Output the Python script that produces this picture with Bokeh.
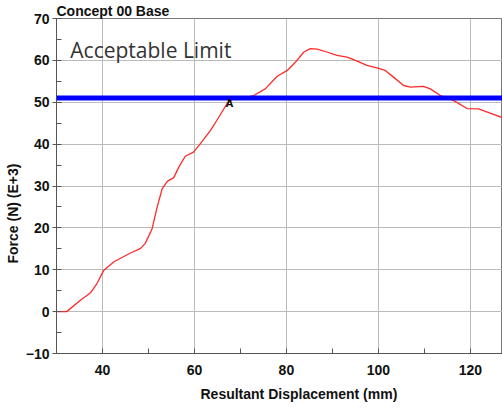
from bokeh.plotting import figure
from bokeh.models import Span, Label, SingleIntervalTicker, Range1d, Title
from bokeh.embed import file_html
from bokeh.resources import INLINE

# Data
displacement = [30.0, 32.2, 35.2, 37.4, 38.8, 40.3, 42.5, 46.1, 48.3, 49.3, 50.8, 51.9, 53.0,
                54.1, 55.5, 56.6, 58.0, 59.8, 61.3, 63.5, 64.9, 67.1, 68.5, 70.5, 72.9, 75.4,
                78.0, 80.2, 82.0, 83.8, 85.2, 86.7, 88.8, 91.0, 93.2, 95.4, 97.5, 99.7, 101.5,
                103.3, 105.5, 107.0, 109.8, 111.3, 113.5, 116.4, 119.3, 121.8, 124.3, 127.0]
force = [0.0, 0.0, 2.7, 4.5, 6.7, 9.9, 11.9, 14.0, 15.1, 16.3, 19.8, 25.0, 29.4,
         31.1, 32.0, 34.5, 37.1, 38.1, 40.1, 43.3, 45.7, 49.7, 50.9, 51.0, 51.6, 53.2,
         56.2, 57.6, 59.6, 62.0, 62.8, 62.7, 62.0, 61.2, 60.8, 59.8, 58.8, 58.2, 57.6,
         56.0, 54.0, 53.6, 53.8, 53.2, 51.6, 50.4, 48.5, 48.4, 47.4, 46.3]
limit = 51.0
title_text = "Concept 00 Base"
x_label = "Resultant Displacement (mm)"
y_label = "Force (N) (E+3)"
limit_text = "Acceptable Limit"
marker_text = "A"

FONT = "Liberation Sans"

p = figure(width=502, height=410, output_backend="svg", toolbar_location=None,
           x_range=Range1d(30, 127), y_range=Range1d(-10, 70),
           min_border_left=56, min_border_right=0, min_border_top=18, min_border_bottom=57)
p.background_fill_color = "white"
p.border_fill_color = "white"
p.outline_line_color = "#777777"

p.title.text = title_text
p.title.align = "left"
p.title.offset = 0
p.title.standoff = 0
p.title.text_font = FONT
p.title.text_font_size = "14px"
p.title.text_font_style = "bold"
p.title.text_color = "#111111"

p.add_layout(Title(text=x_label, align="left", offset=144, standoff=12, text_font=FONT,
                   text_font_size="14px", text_font_style="bold", text_color="#111111"),
             "below")
p.add_layout(Title(text=y_label, align="left", offset=90, standoff=4, text_font=FONT,
                   text_font_size="14px", text_font_style="bold", text_color="#111111"),
             "left")

p.xaxis.ticker = SingleIntervalTicker(interval=20, num_minor_ticks=2)
p.yaxis.ticker = SingleIntervalTicker(interval=10, num_minor_ticks=2)
for ax in (p.xaxis, p.yaxis):
    ax.axis_line_color = "#555555"
    ax.major_tick_line_color = "#555555"
    ax.minor_tick_line_color = "#555555"
    ax.major_label_text_font = FONT
    ax.major_label_text_font_style = "bold"
    ax.major_label_text_font_size = "14px"
    ax.major_label_text_color = "#111111"
    ax.minor_tick_in = 5
    ax.minor_tick_out = 0
p.xaxis.major_tick_in = 0
p.xaxis.major_tick_out = 0
p.xaxis.major_label_standoff = 11
p.yaxis.major_tick_in = 0
p.yaxis.major_tick_out = 4
p.yaxis.major_label_standoff = 3

p.xgrid.ticker = p.xaxis.ticker
p.ygrid.ticker = p.yaxis.ticker
p.grid.grid_line_color = "#bbbbbb"
p.grid.grid_line_width = 1

p.line(displacement, force, line_color="#ff2a2a", line_width=1.3)

p.add_layout(Span(location=limit, dimension="width", line_color="#0000ff", line_width=5))

p.add_layout(Label(x=33.0, y=62.4, text=limit_text, text_font="Open Sans",
                   text_font_size="21px", text_color="#333333",
                   text_baseline="middle", text_align="left"))
p.add_layout(Label(x=67.6, y=49.9, text=marker_text, text_font=FONT,
                   text_font_size="11px", text_font_style="bold", text_color="#000000",
                   text_baseline="middle", text_align="center"))

open("out.html", "w").write(file_html(p, INLINE))
